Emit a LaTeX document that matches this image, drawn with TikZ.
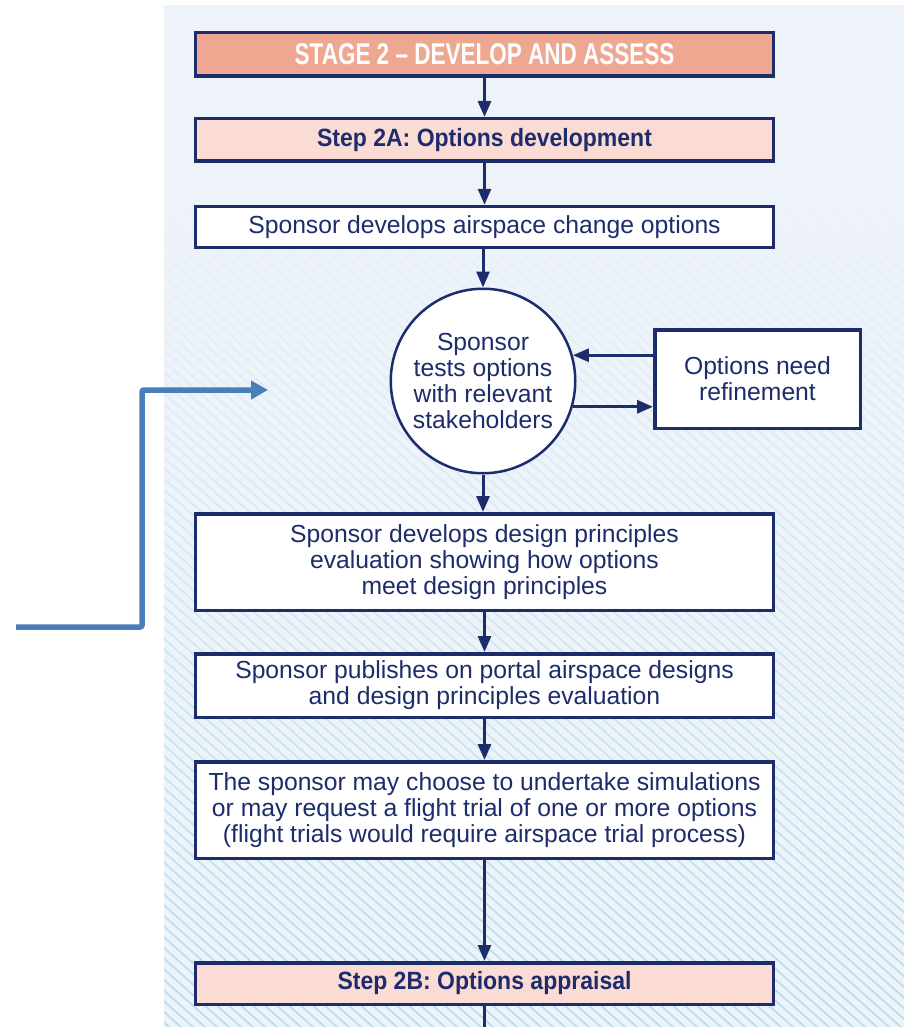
\documentclass[tikz,border=0pt]{standalone}
\usepackage{fontspec}
\setmainfont{Liberation Sans}
\newfontfamily\titlefont{Liberation Sans Bold}[FakeStretch=0.75]
\newfontfamily\stepfont{Liberation Sans Bold}[FakeStretch=0.92]
\usetikzlibrary{arrows.meta,fadings,calc}
\definecolor{navy}{HTML}{1D2C6B}
\definecolor{salmon}{HTML}{EEA892}
\definecolor{pinkfill}{HTML}{FADCD5}
\definecolor{panelbg}{HTML}{EEF3FA}
\definecolor{hatchc}{HTML}{B6E0EE}
\definecolor{bluearrow}{HTML}{4A7EBB}
\tikzfading[name=hatchfade, top color=transparent!100, bottom color=transparent!0]
\begin{document}
\begin{tikzpicture}[x=1pt,y=-1pt,
  box/.style={draw=navy, line width=3.5pt, fill=white, minimum width=578, text=navy,
    align=center, inner sep=0pt, font=\fontsize{24.7}{26}\selectfont},
  titlebox/.style={box, fill=salmon, text=white, font=\titlefont\fontsize{30}{32}\selectfont},
  stepbox/.style={box, fill=pinkfill, font=\stepfont\fontsize{25}{27}\selectfont},
  circbox/.style={circle, draw=navy, line width=2.5pt, fill=white, minimum size=184.5,
    text=navy, align=center, inner sep=0pt, font=\fontsize{24.7}{26}\selectfont},
  arr/.style={draw=navy, line width=3pt, -{Triangle[length=16pt,width=13pt]}},
  bluearr/.style={draw=bluearrow, line width=5.5pt, rounded corners=2pt,
    -{Triangle[length=17pt,width=18pt]}},
  hatch/.style={draw=hatchc, line width=1.8pt}
]
\useasboundingbox (0,0) rectangle (904,1027);
% background panel
\fill[panelbg] (164,5) rectangle (904,1027);
\begin{scope}
  \clip (164,5) rectangle (904,1027);
  \draw[hatch, path fading=hatchfade] \foreach \i in {-830,-818,...,910} {(\i,160) -- ++(975,867)};
\end{scope}

% nodes
\node[titlebox, minimum height=43.5] (stage) at (484.5,54.5) {STAGE 2 – DEVELOP AND ASSESS};
\node[stepbox, minimum height=42.5] (stepA) at (484.5,140) {Step 2A: Options development};
\node[box, minimum height=41] (develop) at (484.5,227) {Sponsor develops airspace change options};
\node[circbox] (tests) at (483,381) {Sponsor\\tests options\\with relevant\\stakeholders};
\node[box, minimum width=205.5, minimum height=98.5] (refine) at (757.5,379) {Options need\\refinement};
\node[box, minimum height=96.5] (design) at (484.5,562) {Sponsor develops design principles\\evaluation showing how options\\meet design principles};
\node[box, minimum height=63.5] (publish) at (484.5,685.5) {Sponsor publishes on portal airspace designs\\and design principles evaluation};
\node[box, minimum height=96.5] (simul) at (484.5,810) {The sponsor may choose to undertake simulations\\or may request a flight trial of one or more options\\(flight trials would require airspace trial process)};
\node[stepbox, minimum height=41.5] (stepB) at (484.5,983.5) {Step 2B: Options appraisal};
\coordinate (bottomend) at (484.5,1030);

% connectors
\draw[arr] (stage) -- (stepA);
\draw[arr] (stepA) -- (develop);
\draw[arr] (develop.south -| tests.north) -- (tests.north);
\draw[arr] (refine.west |- tests.16) -- (tests.16);
\draw[arr] (tests.-16) -- (refine.west |- tests.-16);
\draw[arr] (tests.south) -- (design.north -| tests.south);
\draw[arr] (design) -- (publish);
\draw[arr] (publish) -- (simul);
\draw[arr] (simul) -- (stepB);
\draw[draw=navy, line width=3pt] (stepB) -- (bottomend);

% blue arrow from the left
\coordinate (bstart) at (16,627);
\coordinate (bcorner) at (142,627);
\coordinate (btip) at (268,390);
\draw[bluearr] (bstart) -- (bcorner) |- (btip);
\end{tikzpicture}
\end{document}
